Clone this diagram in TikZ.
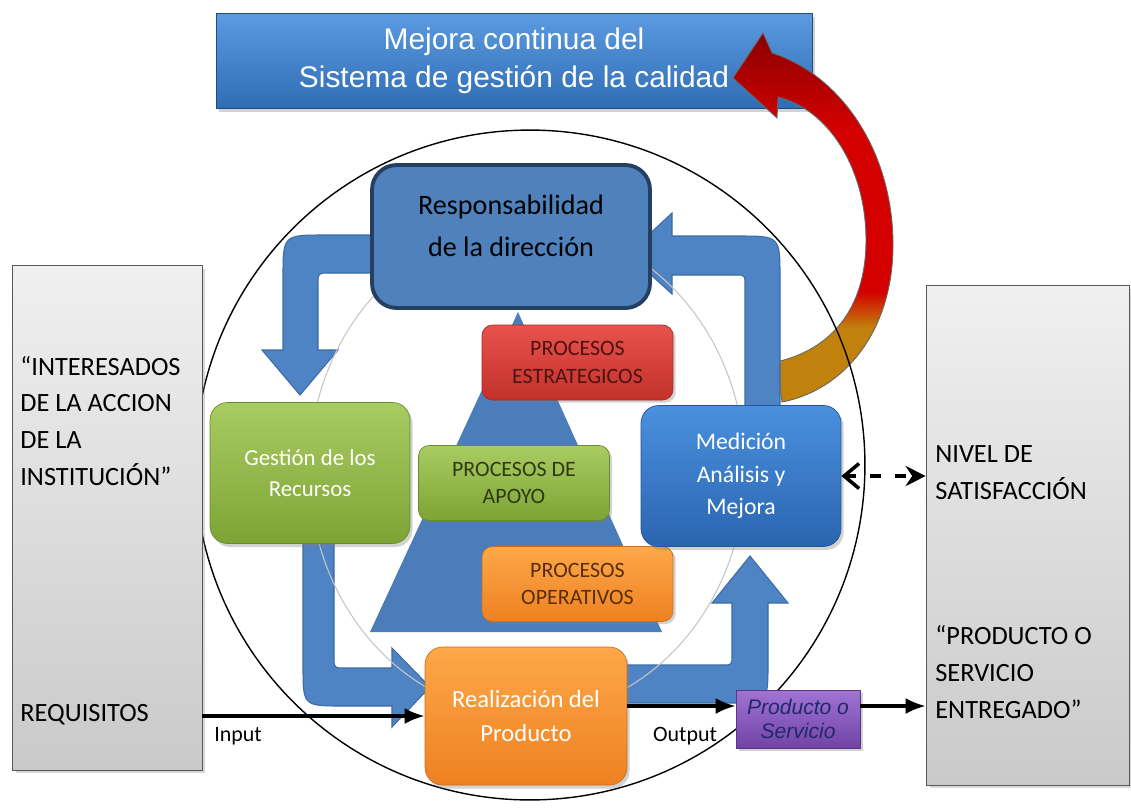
\documentclass[tikz,border=0pt]{standalone}
\usepackage{fontspec}
\setmainfont{Carlito}
\newfontfamily\arialfont{Liberation Sans}
\usetikzlibrary{arrows.meta, positioning, shadows}

\definecolor{bannerTop}{HTML}{5C9BE0}
\definecolor{bannerBot}{HTML}{2F6DB5}
\definecolor{respBlue}{HTML}{4F81BD}
\definecolor{respEdge}{HTML}{243F60}
\definecolor{uBlue}{HTML}{4F84C4}
\definecolor{uEdge}{HTML}{3B6BA8}
\definecolor{pyrBlue}{HTML}{4A7DBA}
\definecolor{gnTop}{HTML}{A9CC62}
\definecolor{gnBot}{HTML}{7DA335}
\definecolor{gnText}{HTML}{2D3A12}
\definecolor{blTop}{HTML}{4A90DE}
\definecolor{blBot}{HTML}{2B65B0}
\definecolor{orTop}{HTML}{FDA849}
\definecolor{orBot}{HTML}{EE8121}
\definecolor{orText}{HTML}{5A2E0A}
\definecolor{rdTop}{HTML}{E8524C}
\definecolor{rdBot}{HTML}{C2312B}
\definecolor{rdText}{HTML}{4D1313}
\definecolor{ppTop}{HTML}{A173D3}
\definecolor{ppBot}{HTML}{7143A6}
\definecolor{ppText}{HTML}{1F2A6B}
\definecolor{curveRed}{HTML}{D40000}
\definecolor{curveDark}{HTML}{8A0000}
\definecolor{curveGold}{HTML}{C0820C}

\pgfdeclareverticalshading{redgold}{100bp}{color(0bp)=(curveGold); color(35bp)=(curveGold); color(40bp)=(curveRed); color(62bp)=(curveRed); color(75bp)=(curveDark); color(100bp)=(curveDark)}

\begin{document}
\begin{tikzpicture}[
        x=0.02cm, y=-0.02cm,
        arrow/.style={-{Latex[length=4mm, width=3.2mm]}, line width=1.8pt},
        banner/.style={draw=bannerBot!70!black, top color=bannerTop, bottom color=bannerBot, minimum width=11.92cm, minimum height=1.9cm, align=center, text=white, font=\arialfont\fontsize{17}{21.5}\selectfont, drop shadow={opacity=0.35, shadow xshift=1.5pt, shadow yshift=-2pt}},
        sidebox/.style={draw=gray!70!black, top color=gray!12, bottom color=gray!42, drop shadow={opacity=0.3, shadow xshift=2pt, shadow yshift=-2pt}},
        sidetext/.style={align=left, inner sep=0pt, font=\fontsize{15}{21}\selectfont},
        uarrow/.style={fill=uBlue, draw=uEdge, line width=0.6pt},
        bigbox/.style={rounded corners=10pt, minimum width=4cm, minimum height=2.82cm, align=center, text=white, drop shadow={opacity=0.35, shadow xshift=1.5pt, shadow yshift=-2pt}},
        procbox/.style={rounded corners=6pt, minimum width=3.82cm, minimum height=1.5cm, align=center, font=\fontsize{12.5}{15.5}\selectfont, drop shadow={opacity=0.35, shadow xshift=1.5pt, shadow yshift=-1.5pt}},
        smalltxt/.style={font=\fontsize{12.5}{14}\selectfont, inner sep=0pt}
        ]

        \useasboundingbox (0,0) rectangle (1131,809);
        \fill[white] (0,0) rectangle (1131,809);

        % Banner on top
        \node[banner] (Mejora) at (514,60.5) {Mejora continua del\\Sistema de gestión de la calidad};

        % Curved arrow back to the banner
        \shadedraw[shading=redgold, draw=black!60, line width=0.5pt]
            (776,362) -- (782,402)
            .. controls (845,390) and (893,330) .. (893,245)
            .. controls (893,150) and (840,75) .. (772,53)
            -- (763,33) -- (733,78) -- (777,118) -- (778,97)
            .. controls (830,110) and (866,170) .. (866,240)
            .. controls (866,310) and (830,350) .. (776,362) -- cycle;

        % Outer circle
        \draw[line width=0.8pt] (530,465) circle [radius=6.7cm];

        % Side boxes
        \node[sidebox, minimum width=3.8cm, minimum height=10.1cm] (Interesados) at (107,517.5) {};
        \node[sidebox, minimum width=4.06cm, minimum height=10cm] (Satisf_box) at (1027.5,535) {};
        \node[sidetext, anchor=west] (Interesados_txt) at (20,421) {“INTERESADOS\\DE LA ACCION\\DE LA\\INSTITUCIÓN”};
        \node[sidetext, anchor=west] (Requisitos) at (20,715) {REQUISITOS};
        \node[sidetext, anchor=west] (Nivel_txt) at (935,473) {NIVEL DE\\SATISFACCIÓN};
        \node[sidetext, anchor=west] (Entregado_txt) at (935,672) {“PRODUCTO O\\SERVICIO\\ENTREGADO”};

        % Cycle arrows
        \filldraw[uarrow] (390,235) -- (325,235) .. controls (283,235) .. (283,277) -- (283,350)
            -- (262,350) -- (300,395) -- (338,350) -- (318,350) -- (318,285)
            .. controls (318,273) .. (330,273) -- (390,273) -- cycle;
        \filldraw[uarrow] (745,412) -- (745,285) .. controls (745,275) .. (735,275) -- (672,275)
            -- (672,294) -- (628,254) -- (672,213) -- (672,236) -- (738,236)
            .. controls (780,236) .. (780,278) -- (780,412) -- cycle;
        \filldraw[uarrow] (303,530) -- (303,666) .. controls (303,706) .. (343,706) -- (392,706)
            -- (392,727) -- (430,687) -- (392,648) -- (392,668) -- (346,668)
            .. controls (334,668) .. (334,656) -- (334,530) -- cycle;
        \filldraw[uarrow] (620,665) -- (722,665) .. controls (732,665) .. (732,655) -- (732,603)
            -- (712,603) -- (750,556) -- (788,603) -- (768,603) -- (768,663)
            .. controls (768,703) .. (728,703) -- (620,703) -- cycle;

        % Inner circle and pyramid
        \draw[gray!45, line width=0.6pt] (527,470) ellipse [x radius=4.36cm, y radius=4.9cm];
        \fill[pyrBlue] (518,312) -- (662,632) -- (370,632) -- cycle;

        % Main blocks
        \node[draw=respEdge, line width=2.2pt, fill=respBlue, rounded corners=14pt, minimum width=5.56cm, minimum height=2.86cm] (Resp_dir) at (511,236.5) {};
        \node[align=center, font=\fontsize{16}{24}\selectfont] (Resp_txt) at (511,226) {Responsabilidad\\de la dirección};

        \node[procbox, top color=rdTop, bottom color=rdBot, draw=rdBot!85!black, text=rdText] (Proc_estr) at (577.5,362.5) {PROCESOS\\ESTRATEGICOS};
        \node[procbox, top color=gnTop, bottom color=gnBot, draw=gnBot!85!black, text=gnText] (Proc_apoyo) at (514,483) {PROCESOS DE\\APOYO};
        \node[procbox, top color=orTop, bottom color=orBot, draw=orBot!85!black, text=orText] (Proc_oper) at (577.5,584) {PROCESOS\\OPERATIVOS};

        \node[bigbox, top color=gnTop, bottom color=gnBot, draw=gnBot!85!black, font=\fontsize{13}{17.5}\selectfont] (Gestion_rec) at (310,473) {Gestión de los\\Recursos};
        \node[bigbox, top color=blTop, bottom color=blBot, draw=blBot!85!black, font=\fontsize{13.5}{18.5}\selectfont] (Medicion) at (741,476) {Medición\\Análisis y\\Mejora};
        \node[bigbox, top color=orTop, bottom color=orBot, draw=orBot!85!black, minimum width=4.04cm, minimum height=2.76cm, font=\fontsize{14}{19}\selectfont] (Realizacion) at (526,716) {Realización del\\Producto};

        \node[draw=ppBot!80!black, top color=ppTop, bottom color=ppBot, minimum width=2.48cm, minimum height=1.16cm, inner sep=1pt, align=center, text=ppText, font=\arialfont\itshape\fontsize{12}{13.5}\selectfont, drop shadow={opacity=0.35, shadow xshift=1.5pt, shadow yshift=-1.5pt}] (Producto_serv) at (798,719) {Producto o\\Servicio};

        % Input / output
        \coordinate (out_a) at ([yshift=0.2cm]Realizacion.east);
        \draw [arrow] (Interesados.east |- Realizacion.west) -- (Realizacion.west);
        \draw [arrow] (out_a) -- (out_a -| Producto_serv.west);
        \draw [arrow] (out_a -| Producto_serv.east) -- (out_a -| Satisf_box.west);
        \draw [{Straight Barb[length=3mm, width=5mm]}-{Stealth[length=4mm, width=4mm]}, line width=2pt, dash pattern=on 6pt off 8pt] (Medicion.east) -- (Medicion.east -| Satisf_box.west);
        \node[smalltxt] (Input_lbl) at (238,736) {Input};
        \node[smalltxt] (Output_lbl) at (685,736) {Output};

\end{tikzpicture}
\end{document}
